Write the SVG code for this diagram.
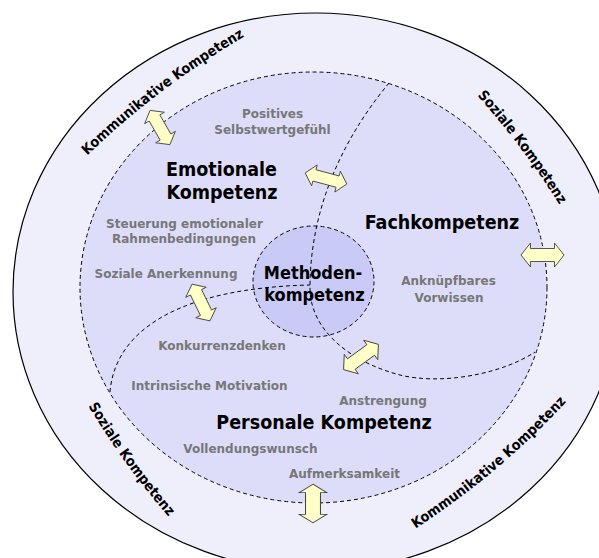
<svg xmlns="http://www.w3.org/2000/svg" width="599" height="558" viewBox="0 0 599 558">
<style>
 text { font-family: "DejaVu Sans", "Liberation Sans", sans-serif; font-weight: bold; }
 .g { fill:#777777; font-size:12px; text-anchor:middle; }
 .t { fill:#000000; font-size:19.5px; text-anchor:middle; font-family: "DejaVu Sans Condensed", "DejaVu Sans", sans-serif; }
 .m { fill:#000000; font-size:18px; text-anchor:middle; font-family: "DejaVu Sans Condensed", "DejaVu Sans", sans-serif; }
 .r { fill:#000000; font-size:14.2px; font-family: "DejaVu Sans Condensed", "DejaVu Sans", sans-serif; }
 .dash { fill:none; stroke:#000000; stroke-width:1; stroke-dasharray:4 3; }
 .arrow { fill:#FFFFC8; stroke:#444444; stroke-width:0.9; stroke-linejoin:miter; }
</style>
<defs>
 <path id="dbl" d="M-21.5,0 L-12,-12 L-12,-6.5 L12,-6.5 L12,-12 L21.5,0 L12,12 L12,6.5 L-12,6.5 L-12,12 Z"/>
 <path id="pA" d="M58.8,184.7 A800,800 0 0 1 280.4,17.1"/>
 <path id="pB" d="M447.5,64.2 A800,800 0 0 1 581.5,242.1"/>
 <path id="pC" d="M67.1,368.3 A800,800 0 0 0 197.6,548.7"/>
 <path id="pD" d="M380.6,550 A800,800 0 0 0 593.3,371.2"/>
</defs>
<rect x="0" y="0" width="599" height="558" fill="#FFFFFF"/>

<g id="outer-ring">
 <ellipse cx="316" cy="292" rx="303" ry="279" fill="#EFEFFB" stroke="#000000" stroke-width="1.2"/>
 <text class="r"><textPath href="#pA" startOffset="50%" text-anchor="middle">Kommunikative Kompetenz</textPath></text>
 <text class="r"><textPath href="#pB" startOffset="50%" text-anchor="middle">Soziale Kompetenz</textPath></text>
 <text class="r"><textPath href="#pC" startOffset="50%" text-anchor="middle">Soziale Kompetenz</textPath></text>
 <text class="r"><textPath href="#pD" startOffset="50%" text-anchor="middle">Kommunikative Kompetenz</textPath></text>
</g>

<g id="inner-area">
 <ellipse cx="313.5" cy="287.5" rx="233.5" ry="215.5" fill="#DDDDF9"/>
 <ellipse cx="313.5" cy="281.5" rx="60.5" ry="55.5" fill="#CACAF7"/>
</g>

<g id="boundaries">
 <ellipse class="dash" cx="313.5" cy="287.5" rx="233.5" ry="215.5"/>
 <ellipse class="dash" cx="313.5" cy="281.5" rx="60.5" ry="55.5"/>
 <path class="dash" d="M389,83 C350,130 310,200 310,288 C310,330 350,362 400,375 C440,385 500,375 535,352"/>
 <path class="dash" d="M110,392 C115,330 180,288 310,285"/>
</g>

<g id="connectors">
 <use href="#dbl" class="arrow" transform="translate(160,127.5) rotate(60) scale(0.92,0.95)"/>
 <use href="#dbl" class="arrow" transform="translate(326,178.5) rotate(15) scale(1,0.9)"/>
 <use href="#dbl" class="arrow" transform="translate(542.5,255)"/>
 <use href="#dbl" class="arrow" transform="translate(361,357) rotate(-36)"/>
 <use href="#dbl" class="arrow" transform="translate(201,302.5) rotate(64) scale(0.95,0.95)"/>
 <use href="#dbl" class="arrow" transform="translate(313,503.5) rotate(90) scale(0.9,1.15)"/>
</g>

<g id="emotionale">
 <text class="t" x="221.5" y="176">Emotionale</text>
 <text class="t" x="222" y="199">Kompetenz</text>
 <text class="g" x="272.5" y="117.5">Positives</text>
 <text class="g" x="272.5" y="134">Selbstwertgefühl</text>
 <text class="g" x="184.5" y="228">Steuerung emotionaler</text>
 <text class="g" x="184" y="243.3">Rahmenbedingungen</text>
 <text class="g" x="166" y="278">Soziale Anerkennung</text>
</g>

<g id="fach">
 <text class="t" x="442" y="229">Fachkompetenz</text>
 <text class="g" x="448.5" y="285">Anknüpfbares</text>
 <text class="g" x="449" y="301.7">Vorwissen</text>
</g>

<g id="methoden">
 <text class="m" x="313" y="279.3">Methoden-</text>
 <text class="m" x="314.5" y="300.5">kompetenz</text>
</g>

<g id="personale">
 <text class="t" x="324" y="429">Personale Kompetenz</text>
 <text class="g" x="222" y="350">Konkurrenzdenken</text>
 <text class="g" x="209.5" y="390">Intrinsische Motivation</text>
 <text class="g" x="383" y="404.5">Anstrengung</text>
 <text class="g" x="250.4" y="453">Vollendungswunsch</text>
 <text class="g" x="344.5" y="478">Aufmerksamkeit</text>
</g>
</svg>
